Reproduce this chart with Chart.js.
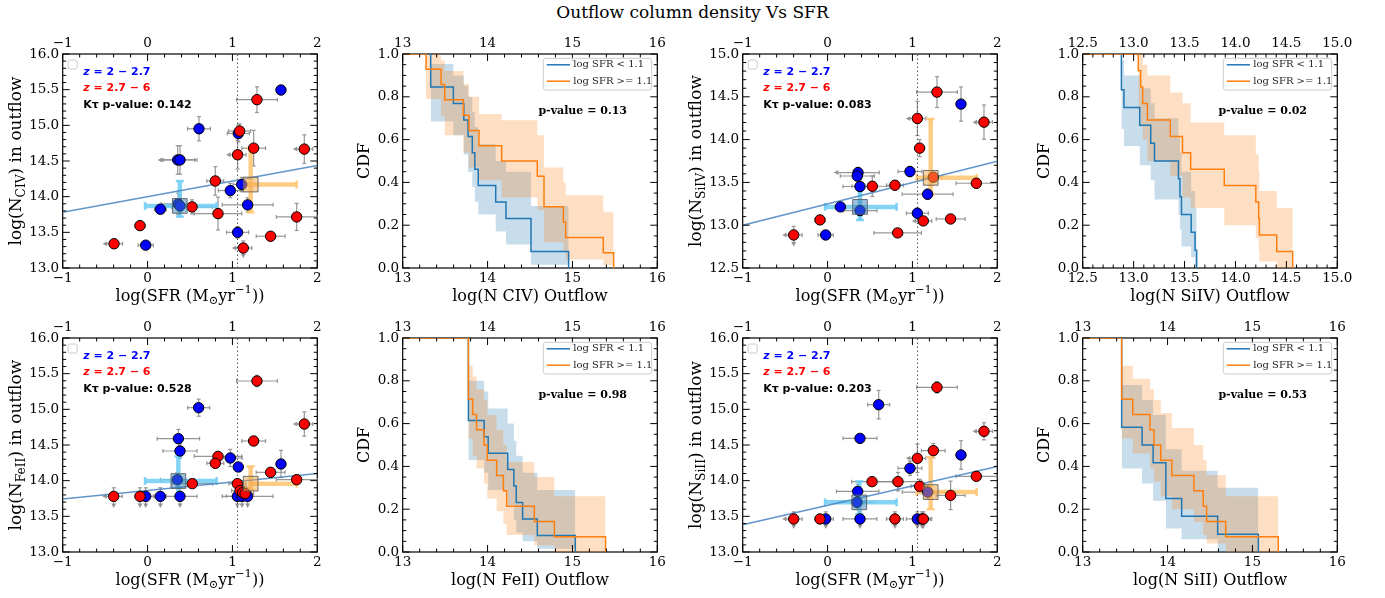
<!DOCTYPE html>
<html>
<head>
<meta charset="utf-8">
<script src="https://cdn.jsdelivr.net/npm/chart.js@4.4.1/dist/chart.umd.min.js"></script>
<style>
html, body { margin: 0; padding: 0; background: #fff; }
body { width: 1385px; height: 598px; position: relative; overflow: hidden; font-family: 'DejaVu Serif', serif; }
#title { position: absolute; left: 0; top: 0; width: 1385px; text-align: center; font-size: 17px; line-height: 24px; color: #000; }
</style>
</head>
<body>
<div id="title">Outflow column density Vs SFR</div>
<script>
// ---------- scatter data: [logSFR, logN, sfrErr, nErr, limit]  ('l' = SFR limit, 'd' = N upper limit)
const civBlue = [
    [1.572, 15.495, 0, 0, ''], [0.606, 14.952, 0.135, 0.17, ''], [0.355, 14.515, 0.2, 0.2, 'l'],
    [0.382, 14.515, 0.2, 0.2, ''], [1.069, 14.886, 0.13, 0.12, ''], [1.109, 14.17, 0.1, 0.1, ''],
    [0.975, 14.086, 0.14, 0.1, ''], [1.179, 13.885, 0.3, 0.1, ''], [0.36, 13.9, 0.2, 0.15, ''],
    [0.382, 13.87, 0.2, 0.15, ''], [0.151, 13.824, 0.07, 0.05, ''], [1.061, 13.5, 0.13, 0.08, ''],
    [-0.022, 13.32, 0.09, 0.03, '']
];
const civRed = [
    [1.289, 15.36, 0.24, 0.18, ''], [1.085, 14.92, 0.13, 0.1, ''], [1.25, 14.68, 0.14, 0.25, ''],
    [1.847, 14.667, 0.1, 0.2, 'l'], [1.061, 14.587, 0.1, 0.2, 'l'], [0.798, 14.22, 0.1, 0.2, ''],
    [0.524, 13.856, 0.24, 0.1, ''], [0.83, 13.763, 0.28, 0.23, ''], [1.757, 13.716, 0.24, 0.19, ''],
    [-0.089, 13.594, 0.06, 0.05, ''], [1.45, 13.445, 0.17, 0.06, ''], [1.128, 13.28, 0.1, 0.1, 'ld'],
    [-0.395, 13.34, 0.1, 0.03, 'l']
];
const si4Blue = [
    [1.572, 14.415, 0, 0.2, ''], [0.359, 13.615, 0.25, 0.06, 'l'], [0.35, 13.575, 0.2, 0.06, ''],
    [0.382, 13.452, 0.2, 0.08, ''], [0.971, 13.627, 0.14, 0.06, ''], [1.179, 13.362, 0.3, 0.06, ''],
    [0.151, 13.214, 0.07, 0.04, ''], [0.382, 13.171, 0.2, 0.1, ''], [1.058, 13.14, 0.13, 0.06, ''],
    [-0.022, 12.886, 0.09, 0.03, '']
];
const si4Red = [
    [1.289, 14.555, 0.24, 0.18, ''], [1.058, 14.247, 0.1, 0.2, 'l'], [1.843, 14.204, 0.1, 0.2, 'l'],
    [1.085, 13.9, 0.05, 0.1, ''], [0.527, 13.455, 0.24, 0.12, ''], [0.794, 13.467, 0.1, 0.05, ''],
    [1.246, 13.561, 0.1, 0.05, ''], [1.753, 13.49, 0.24, 0.06, ''], [-0.089, 13.062, 0.06, 0.03, ''],
    [1.128, 13.05, 0.1, 0.05, 'l'], [1.45, 13.073, 0.17, 0.04, ''], [0.826, 12.91, 0.28, 0.03, ''],
    [-0.399, 12.886, 0.1, 0.1, 'ld']
];
const fe2Blue = [
    [0.602, 15.023, 0.13, 0.12, ''], [0.363, 14.589, 0.25, 0.13, ''], [0.382, 14.416, 0.2, 0.1, ''],
    [0.975, 14.318, 0.14, 0.12, ''], [1.069, 14.192, 0.05, 0.05, ''], [1.572, 14.234, 0.05, 0.19, ''],
    [0.351, 14.014, 0.2, 0.1, ''], [-0.022, 13.78, 0.09, 0.12, 'd'], [0.151, 13.78, 0.07, 0.12, 'd'],
    [0.382, 13.78, 0.2, 0.12, 'd'], [1.058, 13.78, 0.13, 0.12, 'd'], [1.113, 13.78, 0.1, 0.12, 'd'],
    [1.179, 13.78, 0.3, 0.12, 'd']
];
const fe2Red = [
    [1.289, 15.397, 0.24, 0.08, ''], [1.847, 14.794, 0.1, 0.17, 'l'], [1.25, 14.556, 0.14, 0.05, ''],
    [0.83, 14.341, 0.28, 0.05, ''], [0.798, 14.243, 0.1, 0.05, ''], [1.45, 14.117, 0.17, 0.05, ''],
    [0.527, 13.958, 0.24, 0.05, ''], [1.058, 13.958, 0.1, 0.05, ''], [1.757, 14.014, 0.24, 0.07, ''],
    [1.09, 13.86, 0.1, 0.1, 'd'], [1.12, 13.83, 0.1, 0.1, ''], [1.15, 13.82, 0.1, 0.1, ''],
    [-0.399, 13.78, 0.1, 0.12, 'ld'], [-0.089, 13.78, 0.06, 0.12, 'd']
];
const si2Blue = [
    [0.602, 15.065, 0.13, 0.2, ''], [0.382, 14.593, 0.2, 0.03, ''], [1.572, 14.36, 0.05, 0.2, ''],
    [0.971, 14.173, 0.14, 0.1, ''], [0.355, 13.85, 0.25, 0.1, ''], [0.347, 13.696, 0.2, 0.1, ''],
    [1.18, 13.84, 0.3, 0.1, ''], [-0.022, 13.463, 0.09, 0.1, 'd'], [0.382, 13.463, 0.2, 0.1, 'd'],
    [1.058, 13.463, 0.13, 0.1, 'd'], [1.113, 13.463, 0.1, 0.1, 'd']
];
const si2Red = [
    [1.289, 15.308, 0.24, 0.08, ''], [1.843, 14.692, 0.1, 0.12, 'l'], [1.246, 14.421, 0.14, 0.1, ''],
    [1.058, 14.313, 0.1, 0.2, 'l'], [1.753, 14.061, 0.24, 0.05, ''], [0.524, 13.986, 0.24, 0.05, ''],
    [0.83, 13.986, 0.28, 0.13, ''], [1.085, 13.921, 0.1, 0.1, ''], [1.45, 13.794, 0.17, 0.2, ''],
    [-0.399, 13.463, 0.1, 0.1, 'ld'], [-0.089, 13.463, 0.06, 0.05, ''], [0.794, 13.463, 0.1, 0.1, 'd'],
    [1.128, 13.463, 0.1, 0.1, 'd']
];

// medians: [x, y, xLo, xHi, yLo, yHi]
const civLowMed = [0.38, 13.87, -0.03, 0.814, 13.72, 14.22];
const civHighMed = [1.215, 14.17, 1.15, 1.757, 13.78, 14.68];
const si4LowMed = [0.382, 13.214, -0.03, 0.814, 13.06, 13.45];
const si4HighMed = [1.215, 13.553, 1.05, 1.757, 13.36, 14.24];
const fe2LowMed = [0.363, 13.995, -0.03, 0.814, 13.78, 14.34];
const fe2HighMed = [1.215, 13.958, 1.215, 1.757, 13.87, 14.2];
const si2LowMed = [0.374, 13.696, -0.03, 0.814, 13.53, 13.99];
const si2HighMed = [1.215, 13.84, 1.05, 1.757, 13.6, 14.33];

// linear fits, evaluated at fitX
const fitX = [-1, 2];
const civFit = [13.78, 14.437];
const si4Fit = [13.0, 13.748];
const fe2Fit = [13.743, 14.1];
const si2Fit = [13.383, 14.2];
const sfrCut = 1.06;

// ---------- CDF data: drop positions, level after each drop, band upper / lower per step
const civLowN = [13.33, 13.33, 13.597, 13.72, 13.77, 13.82, 13.85, 13.89, 14.096, 14.217, 14.512, 14.512, 14.955];
const civLowCdf = [0.923, 0.846, 0.769, 0.692, 0.615, 0.538, 0.462, 0.385, 0.308, 0.231, 0.154, 0.077, 0];
const civLowHi = [0.98, 0.953, 0.9, 0.85, 0.8, 0.73, 0.66, 0.58, 0.5, 0.45, 0.36, 0.29];
const civLowLo = [0.76, 0.684, 0.62, 0.53, 0.45, 0.38, 0.31, 0.25, 0.17, 0.11, 0.06, 0.015];
const civHighN = [13.275, 13.452, 13.495, 13.715, 13.781, 13.899, 14.166, 14.586, 14.665, 14.665, 14.893, 14.92, 15.364, 15.486];
const civHighCdf = [0.929, 0.857, 0.786, 0.714, 0.643, 0.571, 0.5, 0.429, 0.357, 0.286, 0.214, 0.143, 0.071, 0];
const civHighHi = [1.0, 0.97, 0.92, 0.86, 0.8, 0.72, 0.69, 0.62, 0.55, 0.47, 0.4, 0.34, 0.26];
const civHighLo = [0.79, 0.71, 0.62, 0.54, 0.47, 0.41, 0.33, 0.27, 0.2, 0.12, 0.08, 0.04, 0.014];

const si4LowN = [12.88, 12.88, 12.905, 13.06, 13.168, 13.205, 13.44, 13.455, 13.47, 13.565, 13.603, 13.619];
const si4LowCdf = [0.917, 0.833, 0.75, 0.667, 0.583, 0.5, 0.417, 0.333, 0.25, 0.167, 0.083, 0];
const si4LowHi = [1.0, 0.97, 0.9, 0.84, 0.77, 0.7, 0.61, 0.54, 0.45, 0.36, 0.28];
const si4LowLo = [0.72, 0.65, 0.57, 0.48, 0.41, 0.32, 0.25, 0.18, 0.1, 0.05, 0.01];
const si4HighN = [13.046, 13.069, 13.089, 13.135, 13.36, 13.48, 13.56, 13.89, 14.2, 14.228, 14.235, 14.405, 14.562];
const si4HighCdf = [0.923, 0.846, 0.769, 0.692, 0.615, 0.538, 0.462, 0.385, 0.308, 0.231, 0.154, 0.077, 0];
const si4HighHi = [1.0, 1.0, 0.95, 0.9, 0.82, 0.77, 0.68, 0.62, 0.53, 0.45, 0.36, 0.28];
const si4HighLo = [0.73, 0.66, 0.6, 0.5, 0.43, 0.33, 0.28, 0.2, 0.14, 0.08, 0.03, 0.0];

const fe2LowN = [13.774, 13.774, 13.774, 13.774, 13.774, 13.96, 14.007, 14.237, 14.31, 14.338, 14.413, 14.586, 15.034];
const fe2LowCdf = [0.923, 0.846, 0.769, 0.692, 0.615, 0.538, 0.462, 0.385, 0.308, 0.231, 0.154, 0.077, 0];
const fe2LowHi = [0.8, 0.8, 0.8, 0.8, 0.8, 0.75, 0.67, 0.6, 0.52, 0.45, 0.37, 0.29];
const fe2LowLo = [0.43, 0.43, 0.43, 0.43, 0.43, 0.37, 0.29, 0.22, 0.15, 0.09, 0.05, 0.015];
const fe2HighN = [13.774, 13.774, 13.774, 13.774, 13.825, 13.87, 13.958, 13.997, 14.107, 14.186, 14.225, 14.551, 14.787, 15.39];
const fe2HighCdf = [0.929, 0.857, 0.786, 0.714, 0.643, 0.571, 0.5, 0.429, 0.357, 0.286, 0.214, 0.143, 0.071, 0];
const fe2HighHi = [0.87, 0.87, 0.87, 0.87, 0.82, 0.76, 0.71, 0.64, 0.57, 0.5, 0.42, 0.35, 0.26];
const fe2HighLo = [0.53, 0.53, 0.53, 0.53, 0.45, 0.39, 0.32, 0.25, 0.19, 0.13, 0.08, 0.03, 0.0];

const si2LowN = [13.459, 13.459, 13.459, 13.459, 13.459, 13.7, 13.83, 13.98, 13.98, 14.166, 14.59, 15.07];
const si2LowCdf = [0.917, 0.833, 0.75, 0.667, 0.583, 0.5, 0.417, 0.333, 0.25, 0.167, 0.083, 0];
const si2LowHi = [0.78, 0.78, 0.78, 0.78, 0.78, 0.71, 0.64, 0.55, 0.48, 0.38, 0.3];
const si2LowLo = [0.39, 0.39, 0.39, 0.39, 0.39, 0.32, 0.24, 0.17, 0.11, 0.06, 0.0];
const si2HighN = [13.459, 13.459, 13.459, 13.459, 13.59, 13.793, 13.84, 13.92, 14.05, 14.31, 14.42, 14.46, 14.685, 15.305];
const si2HighCdf = [0.929, 0.857, 0.786, 0.714, 0.643, 0.571, 0.5, 0.429, 0.357, 0.286, 0.214, 0.143, 0.071, 0];
const si2HighHi = [0.87, 0.87, 0.87, 0.87, 0.81, 0.76, 0.71, 0.65, 0.58, 0.5, 0.43, 0.36, 0.26];
const si2HighLo = [0.53, 0.53, 0.53, 0.53, 0.46, 0.39, 0.33, 0.26, 0.2, 0.14, 0.08, 0.04, 0.0];

// ---------- styling
const SERIF = "'DejaVu Serif', serif";
const SANS = "'DejaVu Sans', sans-serif";
const LOW_COLOR = '#1f77b4';
const HIGH_COLOR = '#ff7f0e';
const COLS = [0, 340, 680, 1020];
const ROWS = [30, 314];
const TICK_SIZE = 13.5;

Chart.defaults.font.family = SERIF;
Chart.defaults.color = '#000';

function makeCanvas(col, row) {
    const c = document.createElement('canvas');
    c.width = 340;
    c.height = 284;
    c.style.cssText = 'position:absolute;left:' + COLS[col] + 'px;top:' + ROWS[row] + 'px;width:340px;height:284px';
    document.body.appendChild(c);
    return c;
}

function tickFmt(dec) {
    return v => (v < 0 ? '\u2212' : '') + Math.abs(v).toFixed(dec);
}

function buildScales(xa, ya) {
    const font = { family: SERIF, size: TICK_SIZE };
    const noGrid = { display: false, drawTicks: false };
    const xBase = { type: 'linear', axis: 'x', min: xa.min, max: xa.max, grid: noGrid, border: { display: false } };
    return {
        x: { ...xBase, position: 'bottom',
             ticks: { stepSize: xa.step, padding: 2.2, font, color: '#000', maxRotation: 0, autoSkip: false, callback: tickFmt(xa.dec) },
             afterFit: s => { s.height = 46; } },
        x2: { ...xBase, position: 'top',
              ticks: { stepSize: xa.step, padding: 2.6, font, color: '#000', maxRotation: 0, autoSkip: false, callback: tickFmt(xa.dec) },
              afterFit: s => { s.height = 24; } },
        y: { type: 'linear', position: 'left', min: ya.min, max: ya.max, grid: noGrid, border: { display: false },
             ticks: { stepSize: ya.step, padding: 3.5, font, color: '#000', autoSkip: false, callback: tickFmt(ya.dec) },
             afterFit: s => { s.width = 62.7; } }
    };
}

function baseOptions(scales) {
    return {
        responsive: false,
        animation: false,
        events: [],
        layout: { padding: { left: 0, right: 22.7, top: 0, bottom: 0 } },
        plugins: { legend: { display: false }, tooltip: { enabled: false } },
        scales
    };
}

// ---------- drawing helpers
function seg(ctx, x1, y1, x2, y2) {
    ctx.beginPath();
    ctx.moveTo(x1, y1);
    ctx.lineTo(x2, y2);
    ctx.stroke();
}

function drawFrame(chart) {
    const ctx = chart.ctx, a = chart.chartArea;
    ctx.save();
    ctx.strokeStyle = '#000';
    ctx.lineWidth = 1.2;
    ctx.strokeRect(a.left, a.top, a.right - a.left, a.bottom - a.top);
    ctx.restore();
}

function drawTicks(chart, xa, ya) {
    const ctx = chart.ctx, a = chart.chartArea;
    ctx.save();
    ctx.strokeStyle = '#000';
    ctx.lineWidth = 1;
    [[xa, chart.scales.x, true], [ya, chart.scales.y, false]].forEach(([ax, sc, hor]) => {
        const n = Math.round((ax.max - ax.min) / ax.minor);
        for (let i = 0; i <= n; i++) {
            const v = ax.min + i * ax.minor;
            const k = (v - ax.min) / ax.step;
            const len = Math.abs(k - Math.round(k)) < 1e-6 ? 7 : 3.5;
            const p = sc.getPixelForValue(v);
            if (hor) {
                seg(ctx, p, a.bottom, p, a.bottom - len);
                seg(ctx, p, a.top, p, a.top + len);
            } else {
                seg(ctx, a.left, p, a.left + len, p);
                seg(ctx, a.right, p, a.right - len, p);
            }
        }
    });
    ctx.restore();
}

// text with sub/superscripts
function richDraw(ctx, parts, x, y, size, family, align) {
    const fontOf = p => (p.i ? 'italic ' : '') + (p.b ? 'bold ' : '') + (p.s ? size * 0.72 : size) + 'px ' + family;
    let w = 0;
    parts.forEach(p => { ctx.font = fontOf(p); w += ctx.measureText(p.t).width; });
    let cx = align === 'center' ? x - w / 2 : x;
    ctx.textAlign = 'left';
    ctx.textBaseline = 'middle';
    parts.forEach(p => {
        ctx.font = fontOf(p);
        ctx.fillStyle = p.c || '#000';
        const dy = p.s === 'sub' ? size * 0.28 : p.s === 'sup' ? -size * 0.38 : 0;
        ctx.fillText(p.t, cx, y + dy);
        cx += ctx.measureText(p.t).width;
    });
}

function axisTitles(chart, xParts, yParts, yOffset, ySize) {
    const ctx = chart.ctx, a = chart.chartArea;
    ctx.save();
    richDraw(ctx, xParts, (a.left + a.right) / 2, a.bottom + 28.5, 16, SERIF, 'center');
    ctx.translate(a.left - yOffset, (a.top + a.bottom) / 2);
    ctx.rotate(-Math.PI / 2);
    richDraw(ctx, yParts, 0, 0, ySize, SERIF, 'center');
    ctx.restore();
}

function arrowHead(ctx, x, y, dx, dy) {
    ctx.beginPath();
    ctx.moveTo(x + dx * 3, y + dy * 3);
    ctx.lineTo(x - dx * 1.5 - dy * 2.5, y - dy * 1.5 + dx * 2.5);
    ctx.lineTo(x - dx * 1.5 + dy * 2.5, y - dy * 1.5 - dx * 2.5);
    ctx.closePath();
    ctx.fill();
}

function drawErrBars(chart, pts) {
    const ctx = chart.ctx, sx = chart.scales.x, sy = chart.scales.y;
    ctx.save();
    ctx.strokeStyle = 'rgba(140,140,140,0.9)';
    ctx.fillStyle = 'rgba(140,140,140,0.9)';
    ctx.lineWidth = 1.2;
    pts.forEach(([x, y, xe, ye, lim]) => {
        const px = sx.getPixelForValue(x), py = sy.getPixelForValue(y);
        if (xe) {
            const l = sx.getPixelForValue(x - xe), r = sx.getPixelForValue(x + xe);
            seg(ctx, l, py, r, py);
            seg(ctx, r, py - 2, r, py + 2);
            if (lim.includes('l')) arrowHead(ctx, l, py, -1, 0);
            else seg(ctx, l, py - 2, l, py + 2);
        }
        if (ye) {
            const t = sy.getPixelForValue(y + ye), b = sy.getPixelForValue(y - ye);
            seg(ctx, px, t, px, b);
            seg(ctx, px - 2, t, px + 2, t);
            if (lim.includes('d')) arrowHead(ctx, px, b, 0, 1);
            else seg(ctx, px - 2, b, px + 2, b);
        }
    });
    ctx.restore();
}

function drawMedBar(chart, m, color) {
    const ctx = chart.ctx, sx = chart.scales.x, sy = chart.scales.y;
    const [x, y, xlo, xhi, ylo, yhi] = m;
    const px = sx.getPixelForValue(x), py = sy.getPixelForValue(y);
    const l = sx.getPixelForValue(xlo), r = sx.getPixelForValue(xhi);
    const b = sy.getPixelForValue(ylo), t = sy.getPixelForValue(yhi);
    ctx.save();
    ctx.strokeStyle = color;
    ctx.lineWidth = 4.5;
    seg(ctx, l, py, r, py);
    seg(ctx, px, b, px, t);
    ctx.lineWidth = 2.5;
    seg(ctx, l, py - 4, l, py + 4);
    seg(ctx, r, py - 4, r, py + 4);
    seg(ctx, px - 4, b, px + 4, b);
    seg(ctx, px - 4, t, px + 4, t);
    ctx.restore();
}

function scatterNotes(chart, pval) {
    const ctx = chart.ctx, a = chart.chartArea;
    ctx.save();
    ctx.fillStyle = 'rgba(255,255,255,0.8)';
    ctx.strokeStyle = '#cccccc';
    ctx.lineWidth = 1;
    ctx.beginPath();
    ctx.roundRect(a.left + 5.5, a.top + 6, 9, 9, 2);
    ctx.fill();
    ctx.stroke();
    const x0 = a.left + 20.5;
    richDraw(ctx, [{ t: 'z', i: 1, b: 1, c: '#0000ff' }, { t: ' = 2 \u2212 2.7', b: 1, c: '#0000ff' }], x0, a.top + 17.7, 11, SANS);
    richDraw(ctx, [{ t: 'z', i: 1, b: 1, c: '#ff0000' }, { t: ' = 2.7 \u2212 6', b: 1, c: '#ff0000' }], x0, a.top + 34.3, 11, SANS);
    richDraw(ctx, [{ t: 'K\u03c4 p-value: ' + pval, b: 1 }], x0, a.top + 51, 11, SANS);
    ctx.restore();
}

function cdfNotes(chart, pval) {
    const ctx = chart.ctx, a = chart.chartArea;
    ctx.save();
    ctx.font = 'bold 11px ' + SERIF;
    ctx.fillStyle = '#000';
    ctx.textAlign = 'left';
    ctx.textBaseline = 'middle';
    ctx.fillText('p-value = ' + pval, a.left + 0.533 * (a.right - a.left), a.top + 0.265 * (a.bottom - a.top));
    // legend box
    const w = 108.4, h = 31.7;
    const bx = a.right - 5.6 - w, by = a.top + 4.3;
    ctx.fillStyle = 'rgba(255,255,255,0.8)';
    ctx.strokeStyle = '#cccccc';
    ctx.lineWidth = 1;
    ctx.beginPath();
    ctx.roundRect(bx, by, w, h, 2.5);
    ctx.fill();
    ctx.stroke();
    const rows = chart.data.datasets.filter(d => d.label);
    rows.forEach((d, i) => {
        const y = by + 6.5 + i * 16.4;
        ctx.strokeStyle = d.borderColor;
        ctx.lineWidth = 1.5;
        seg(ctx, bx + 3.4, y, bx + 26.7, y);
        ctx.fillStyle = '#222';
        ctx.font = '10px ' + SERIF;
        ctx.fillText(d.label, bx + 30, y);
    });
    ctx.restore();
}

const sfrLabel = [{ t: 'log(SFR (M' }, { t: '\u2299', s: 'sub' }, { t: 'yr' }, { t: '\u22121', s: 'sup' }, { t: '))' }];

// ---------- scatter panels
function scatterChart(p, col, row) {
    const xa = { min: -1, max: 2, step: 1, minor: 0.2, dec: 0 };
    const ya = { min: p.yMin, max: p.yMax, step: 0.5, minor: 0.1, dec: 1 };
    const toPts = arr => arr.map(q => ({ x: q[0], y: q[1] }));
    const pointSet = (arr, color, order) => ({
        data: toPts(arr), showLine: false, pointRadius: 5.2, pointBorderWidth: 1,
        pointBackgroundColor: color, backgroundColor: color, pointBorderColor: '#000', borderColor: '#000', order
    });
    const medSet = (m, fill, order) => ({
        data: [{ x: m[0], y: m[1] }], showLine: false, pointStyle: 'rect', pointRadius: 10.4,
        pointBackgroundColor: fill, backgroundColor: fill, pointBorderColor: 'rgba(90,90,90,0.85)', pointBorderWidth: 1, order
    });
    new Chart(makeCanvas(col, row), {
        type: 'line',
        data: {
            datasets: [
                medSet(p.lowMed, 'rgba(60,130,185,0.5)', 0),
                medSet(p.highMed, 'rgba(240,165,70,0.5)', 1),
                pointSet(p.red, '#ff0000', 2),
                pointSet(p.blue, '#0000ff', 3),
                { data: fitX.map((x, i) => ({ x, y: p.fit[i] })), borderColor: 'rgba(70,130,190,0.85)', borderWidth: 1.5, pointRadius: 0, fill: false, order: 4 },
                { data: [{ x: sfrCut, y: p.yMin }, { x: sfrCut, y: p.yMax }], borderColor: '#555', borderWidth: 1, borderDash: [1.5, 2.5], pointRadius: 0, fill: false, order: 5 }
            ]
        },
        options: baseOptions(buildScales(xa, ya)),
        plugins: [{
            id: 'scatterDeco',
            beforeDatasetsDraw(chart) {
                drawFrame(chart);
                drawErrBars(chart, p.blue);
                drawErrBars(chart, p.red);
                drawMedBar(chart, p.lowMed, 'rgba(110,205,245,0.85)');
                drawMedBar(chart, p.highMed, 'rgba(255,195,110,0.85)');
            },
            afterDatasetsDraw(chart) {
                drawTicks(chart, xa, ya);
                axisTitles(chart, sfrLabel, [{ t: 'log(N' }, { t: p.ion, s: 'sub' }, { t: ') in outflow' }], 46, 17);
                scatterNotes(chart, p.pval);
            }
        }]
    });
}

// ---------- CDF panels
function stepPts(n, levels, xmin) {
    return [{ x: xmin, y: 1 }].concat(n.map((x, i) => ({ x, y: levels[i] })));
}
function bandPts(n, vals) {
    const pts = vals.map((v, i) => ({ x: n[i], y: v }));
    pts.push({ x: n[vals.length], y: vals[vals.length - 1] });
    return pts;
}

function cdfChart(p, col, row) {
    const xa = p.x;
    const ya = { min: 0, max: 1, step: 0.2, minor: 0.05, dec: 1 };
    const band = (n, v, fill, color, order) => ({
        data: bandPts(n, v), borderWidth: 0, borderColor: 'rgba(0,0,0,0)', stepped: true,
        pointRadius: 0, fill, backgroundColor: color, order
    });
    const line = (n, c, color, label, order) => ({
        label, data: stepPts(n, c, xa.min), borderColor: color, borderWidth: 1.5, stepped: true,
        pointRadius: 0, fill: false, order
    });
    new Chart(makeCanvas(col, row), {
        type: 'line',
        data: {
            datasets: [
                band(p.low[0], p.low[3], false, 'rgba(0,0,0,0)', 5),
                band(p.low[0], p.low[2], '-1', 'rgba(31,119,180,0.25)', 4),
                band(p.high[0], p.high[3], false, 'rgba(0,0,0,0)', 3),
                band(p.high[0], p.high[2], '-1', 'rgba(255,127,14,0.25)', 2),
                line(p.low[0], p.low[1], LOW_COLOR, 'log SFR < 1.1', 1),
                line(p.high[0], p.high[1], HIGH_COLOR, 'log SFR >= 1.1', 0)
            ]
        },
        options: baseOptions(buildScales(xa, ya)),
        plugins: [{
            id: 'cdfDeco',
            beforeDatasetsDraw(chart) { drawFrame(chart); },
            afterDatasetsDraw(chart) {
                drawTicks(chart, xa, ya);
                axisTitles(chart, [{ t: 'log(N ' + p.ion + ') Outflow' }], [{ t: 'CDF' }], 37.7, 16);
                cdfNotes(chart, p.pval);
            }
        }]
    });
}

const x13to16 = { min: 13, max: 16, step: 1, minor: 0.2, dec: 0 };

scatterChart({ ion: 'CIV', yMin: 13, yMax: 16, blue: civBlue, red: civRed, lowMed: civLowMed, highMed: civHighMed, fit: civFit, pval: '0.142' }, 0, 0);
cdfChart({ ion: 'CIV', x: x13to16, low: [civLowN, civLowCdf, civLowHi, civLowLo], high: [civHighN, civHighCdf, civHighHi, civHighLo], pval: '0.13' }, 1, 0);
scatterChart({ ion: 'SiIV', yMin: 12.5, yMax: 15, blue: si4Blue, red: si4Red, lowMed: si4LowMed, highMed: si4HighMed, fit: si4Fit, pval: '0.083' }, 2, 0);
cdfChart({ ion: 'SiIV', x: { min: 12.5, max: 15, step: 0.5, minor: 0.1, dec: 1 }, low: [si4LowN, si4LowCdf, si4LowHi, si4LowLo], high: [si4HighN, si4HighCdf, si4HighHi, si4HighLo], pval: '0.02' }, 3, 0);
scatterChart({ ion: 'FeII', yMin: 13, yMax: 16, blue: fe2Blue, red: fe2Red, lowMed: fe2LowMed, highMed: fe2HighMed, fit: fe2Fit, pval: '0.528' }, 0, 1);
cdfChart({ ion: 'FeII', x: x13to16, low: [fe2LowN, fe2LowCdf, fe2LowHi, fe2LowLo], high: [fe2HighN, fe2HighCdf, fe2HighHi, fe2HighLo], pval: '0.98' }, 1, 1);
scatterChart({ ion: 'SiII', yMin: 13, yMax: 16, blue: si2Blue, red: si2Red, lowMed: si2LowMed, highMed: si2HighMed, fit: si2Fit, pval: '0.203' }, 2, 1);
cdfChart({ ion: 'SiII', x: x13to16, low: [si2LowN, si2LowCdf, si2LowHi, si2LowLo], high: [si2HighN, si2HighCdf, si2HighHi, si2HighLo], pval: '0.53' }, 3, 1);
</script>
</body>
</html>
